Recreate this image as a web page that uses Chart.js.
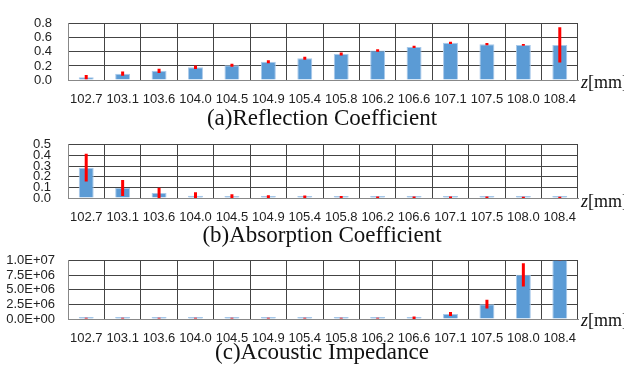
<!DOCTYPE html>
<html>
<head>
<meta charset="utf-8">
<script src="https://cdn.jsdelivr.net/npm/chart.js@4"></script>
<style>
    body { margin: 0; background: #fff; width: 624px; height: 367px; overflow: hidden; position: relative; }
    .panel { position: absolute; left: 0; width: 624px; }
    .titulo { position: absolute; left: 0; width: 644px; text-align: center; font-family: "Liberation Serif", serif; font-size: 23px; line-height: 26px; color: #111; }
    .eje { position: absolute; left: 581px; font-family: "Liberation Serif", serif; font-size: 18px; line-height: 20px; color: #111; white-space: nowrap; }
</style>
</head>
<body>
<div class="panel" style="top:0px;height:110px"><canvas id="graficoReflexion"></canvas></div>
<div class="panel" style="top:120px;height:108px"><canvas id="graficoAbsorcion"></canvas></div>
<div class="panel" style="top:240px;height:109px"><canvas id="graficoImpedancia"></canvas></div>

<div class="titulo" style="top:105px">(a)Reflection Coefficient</div>
<div class="titulo" style="top:222px">(b)Absorption Coefficient</div>
<div class="titulo" style="top:339px">(c)Acoustic Impedance</div>
<div class="eje" style="top:72px"><i>z</i>[mm]</div>
<div class="eje" style="top:191px"><i>z</i>[mm]</div>
<div class="eje" style="top:310px"><i>z</i>[mm]</div>

<script>
// Datos
const posiciones = ["102.7", "103.1", "103.6", "104.0", "104.5", "104.9", "105.4", "105.8", "106.2", "106.6", "107.1", "107.5", "108.0", "108.4"];

const reflexion = [0.04, 0.09, 0.13, 0.18, 0.21, 0.26, 0.31, 0.37, 0.42, 0.47, 0.53, 0.51, 0.50, 0.50];
const reflexionErr = [0.03, 0.03, 0.03, 0.025, 0.02, 0.02, 0.02, 0.02, 0.018, 0.016, 0.016, 0.016, 0.012, 0.25];

const absorcion = [0.285, 0.093, 0.047, 0.02, 0.01, 0.007, 0.006, 0.006, 0.005, 0.005, 0.004, 0.004, 0.003, 0.003];
const absorcionErr = [0.13, 0.075, 0.05, 0.035, 0.025, 0.02, 0.018, 0.012, 0.01, 0.01, 0.01, 0.01, 0.008, 0.008];

const impedancia = [1.5e5, 1.5e5, 1.5e5, 1.5e5, 1.5e5, 1.5e5, 1.5e5, 1.5e5, 1.5e5, 1.6e5, 8.5e5, 2.55e6, 7.6e6, 1.3e7];
const impedanciaErr = [5e4, 5e4, 5e4, 5e4, 5e4, 5e4, 5e4, 6e4, 8e4, 2.5e5, 3.5e5, 7.5e5, 2e6, 3e6];

// Barras de error en rojo
const barrasError = {
    id: "barrasError",
    afterDatasetsDraw(chart) {
        const errores = chart.options.plugins.barrasError.errores;
        const meta = chart.getDatasetMeta(0);
        const y = chart.scales.y;
        const area = chart.chartArea;
        const ctx = chart.ctx;
        ctx.save();
        ctx.beginPath();
        ctx.rect(area.left, area.top, area.right - area.left, area.bottom - area.top);
        ctx.clip();
        ctx.strokeStyle = "#ff0000";
        ctx.lineWidth = 3;
        chart.data.datasets[0].data.forEach( (v, i) => {
            const x = meta.data[i].x;
            ctx.beginPath();
            ctx.moveTo(x, y.getPixelForValue(v + errores[i]));
            ctx.lineTo(x, y.getPixelForValue(v - errores[i]));
            ctx.stroke();
        }
        );
        ctx.restore();
    }
};

function formatoCientifico(v) {
    if (v === 0) return "0.0E+00";
    const exp = Math.floor(Math.log10(v));
    const man = v / Math.pow(10, exp);
    return man.toFixed(1) + "E+" + String(exp).padStart(2, "0");
}

function crearGrafico(id, valores, errores, opts) {
    return new Chart(document.getElementById(id), {
        type: "bar",
        data: {
            labels: posiciones,
            datasets: [{
                data: valores,
                backgroundColor: "#5b9bd5",
                borderColor: "#a9c9ea",
                borderWidth: 1,
                minBarLength: 2,
                barPercentage: 0.41,
                categoryPercentage: 1,
            }, ],
        },
        options: {
            responsive: true,
            maintainAspectRatio: false,
            animation: false,
            layout: {
                padding: { top: opts.arriba, right: 46, left: 0, bottom: 0 }
            },
            plugins: {
                legend: { display: false },
                tooltip: { enabled: false },
                barrasError: { errores: errores },
            },
            scales: {
                x: {
                    grid: { color: "#444", lineWidth: 1, drawTicks: false, offset: true },
                    border: { color: "#888" },
                    ticks: { color: "#222", padding: 12, maxRotation: 0, autoSkip: false, font: { family: "Liberation Sans", size: 13 } },
                    afterFit: (s) => { s.height = 30; },
                },
                y: {
                    min: 0,
                    max: opts.max,
                    grid: { color: "#444", lineWidth: 1, drawTicks: false },
                    border: { color: "#888" },
                    ticks: { stepSize: opts.paso, autoSkip: false, color: "#222", padding: opts.sep, callback: opts.formato, font: { family: "Liberation Sans", size: 13 } },
                    afterFit: (s) => { s.width = 68; },
                },
            },
        },
        plugins: [barrasError],
    });
}

document.addEventListener("DOMContentLoaded", () => {
    // Gráfico (a): coeficiente de reflexión
    crearGrafico("graficoReflexion", reflexion, reflexionErr, { arriba: 13, max: 0.8, paso: 0.2, sep: 16, formato: (v) => v.toFixed(1) });
    // Gráfico (b): coeficiente de absorción
    crearGrafico("graficoAbsorcion", absorcion, absorcionErr, { arriba: 14, max: 0.5, paso: 0.1, sep: 17, formato: (v) => v.toFixed(1) });
    // Gráfico (c): impedancia acústica
    crearGrafico("graficoImpedancia", impedancia, impedanciaErr, { arriba: 12, max: 1e7, paso: 2.5e6, sep: 13, formato: formatoCientifico });
}
);
</script>
</body>
</html>
